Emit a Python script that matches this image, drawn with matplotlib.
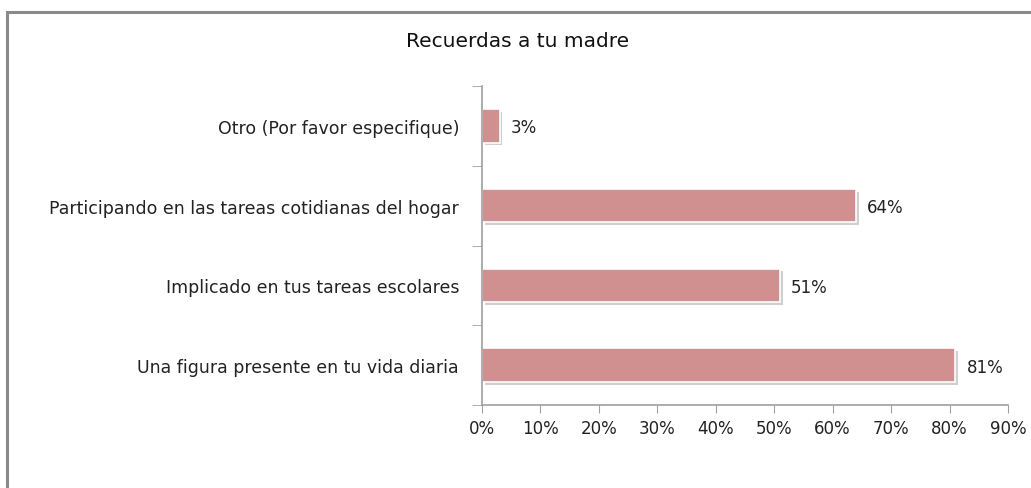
import matplotlib
matplotlib.use("Agg")
import matplotlib.pyplot as plt
import matplotlib.patheffects as pe
from matplotlib.patches import Rectangle
from matplotlib.ticker import PercentFormatter

categories = ["Una figura presente en tu vida diaria",
              "Implicado en tus tareas escolares",
              "Participando en las tareas cotidianas del hogar",
              "Otro (Por favor especifique)"]
values = [81, 51, 64, 3]
title = "Recuerdas a tu madre"

W, H = 1031, 489
fig = plt.figure(figsize=(W / 100, H / 100), dpi=100)
ax = fig.add_axes([482 / W, 1 - 406 / H, (1008 - 482) / W, (406 - 87) / H])

# outer chart frame (cut off on the right and bottom)
fig.patches.append(Rectangle((6.5 / W, -0.1), 1.2, 1 - 12.5 / H + 0.1,
                             transform=fig.transFigure, fill=False,
                             edgecolor="#8a8a8a", linewidth=2.2, clip_on=False))

bars = ax.barh(range(len(categories)), values, height=0.42,
               color="#D09090", edgecolor="white", linewidth=1.2)
for b in bars:
    b.set_path_effects([pe.SimplePatchShadow(offset=(2, -2), shadow_rgbFace="#b0b0b0", alpha=0.6),
                        pe.Normal()])

for i, v in enumerate(values):
    ax.text(v + 1.9, i - 0.02, f"{v}%", va="center", ha="left",
            fontsize=12, color="#222222")

ax.set_xlim(0, 90)
ax.set_ylim(-0.5, len(categories) - 0.5)
ax.set_xticks(range(0, 91, 10))
ax.xaxis.set_major_formatter(PercentFormatter(decimals=0))
ax.set_yticks(range(len(categories)))
ax.set_yticklabels(categories)
ax.set_yticks([i - 0.5 for i in range(len(categories) + 1)], minor=True)
ax.tick_params(axis="y", which="major", length=0, pad=16.5, labelsize=12.5, labelcolor="#222222")
ax.tick_params(axis="y", which="minor", length=7, color="#a0a0a0")
ax.tick_params(axis="x", length=6, color="#a0a0a0", labelsize=12, labelcolor="#222222", pad=4)

for s in ["top", "right"]:
    ax.spines[s].set_visible(False)
for s in ["left", "bottom"]:
    ax.spines[s].set_color("#a0a0a0")
    ax.spines[s].set_linewidth(1.2)

fig.text(518 / W, 1 - 42 / H, title, ha="center", va="center", fontsize=14.5, color="#111111")

fig.savefig("out.png", dpi=100)
